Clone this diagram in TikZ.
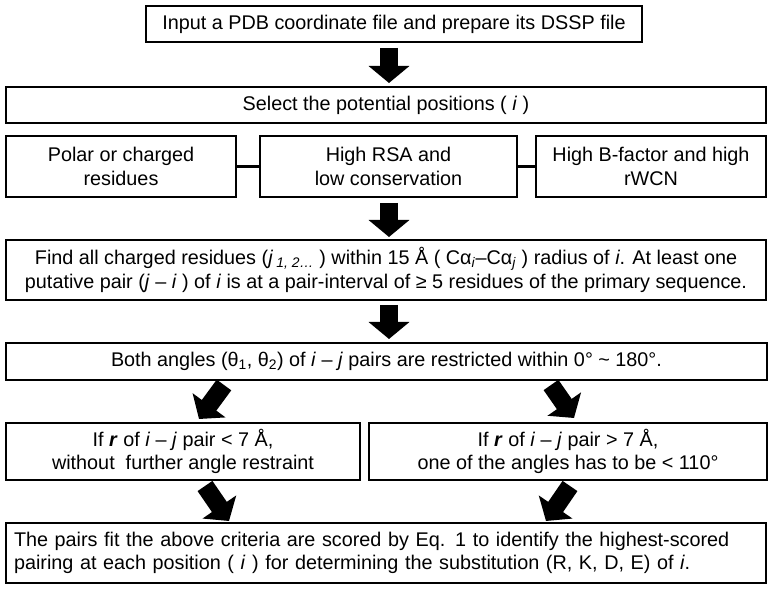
\documentclass[tikz,border=0pt]{standalone}
\usepackage{fontspec}
\setmainfont{Liberation Sans}
\usetikzlibrary{arrows.meta}
\begin{document}
\begin{tikzpicture}[x=1pt,y=-1pt,
  box/.style={draw, line width=2.3pt, align=center, inner sep=0pt,
    font=\fontsize{19.8}{23.5}\selectfont},
  blk/.style={line width=18pt, -{Triangle[length=17pt,width=40pt]}},
  link/.style={line width=3pt}]
\path[use as bounding box, fill=white] (0,0) rectangle (772,593);

\node[box, minimum width=496pt, minimum height=36pt] (top) at (394,24)
  {Input a PDB coordinate file and prepare its DSSP file};
\node[box, minimum width=760pt, minimum height=36pt] (sel) at (386,105)
  {Select the potential positions ( \textit{i} )};
\node[box, minimum width=230pt, minimum height=61pt] (polar) at (121,166.5)
  {Polar or charged\\residues};
\node[box, minimum width=257pt, minimum height=61pt] (rsa) at (388.5,166.5)
  {High RSA and\\low conservation};
\node[box, minimum width=230pt, minimum height=61pt] (bfac) at (651,166.5)
  {High B-factor and high\\rWCN};
\node[box, minimum width=760pt, minimum height=60pt] (find) at (386,270)
  {Find all charged residues (\textit{j}\,\textsubscript{\textit{1, 2…}} ) within 15 Å ( Cα\textsubscript{\textit{i}}–Cα\textsubscript{\textit{j}} ) radius of \textit{i}. At least one\\putative pair (\textit{j} – \textit{i} ) of \textit{i} is at a pair-interval of ≥ 5 residues of the primary sequence.};
\node[box, minimum width=761pt, minimum height=37pt] (both) at (386.5,361.5)
  {Both angles (θ\textsubscript{1}, θ\textsubscript{2}) of \textit{i} – \textit{j} pairs are restricted within 0° \textasciitilde{} 180°.};
\node[box, minimum width=354pt, minimum height=57pt] (ifl) at (183,451.5)
  {If \textbf{\textit{r}} of \textit{i} – \textit{j} pair < 7 Å,\\without\ \ further angle restraint};
\node[box, minimum width=398pt, minimum height=57pt] (ifr) at (568,451.5)
  {If \textbf{\textit{r}} of \textit{i} – \textit{j} pair > 7 Å,\\one of the angles has to be < 110°};
\node[box, align=left, text width=744pt, inner xsep=8pt, minimum height=60pt] (fin) at (386,553)
  {The pairs fit the above criteria are scored by Eq. 1 to identify the highest-scored\\pairing at each position ( \textit{i} ) for determining the substitution (R, K, D, E) of \textit{i}.};

\draw[link] (polar.east) -- (rsa.west);
\draw[link] (rsa.east) -- (bfac.west);

\coordinate (a1s) at (389,48);  \coordinate (a1e) at (389,83);
\coordinate (a2s) at (389,203); \coordinate (a2e) at (389,237);
\coordinate (a3s) at (389,305); \coordinate (a3e) at (389,339);
\coordinate (a4s) at (224,385); \coordinate (a4e) at (199,419);
\coordinate (a5s) at (551,385); \coordinate (a5e) at (574,418);
\coordinate (a6s) at (205,486); \coordinate (a6e) at (229,521);
\coordinate (a7s) at (570,486); \coordinate (a7e) at (546,521);
\draw[blk] (a1s) -- (a1e);
\draw[blk] (a2s) -- (a2e);
\draw[blk] (a3s) -- (a3e);
\draw[blk] (a4s) -- (a4e);
\draw[blk] (a5s) -- (a5e);
\draw[blk] (a6s) -- (a6e);
\draw[blk] (a7s) -- (a7e);
\end{tikzpicture}
\end{document}
